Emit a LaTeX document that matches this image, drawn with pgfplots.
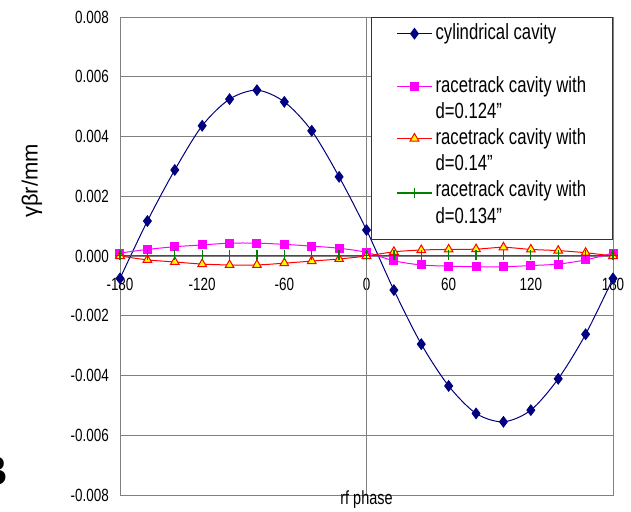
\documentclass[border=0pt]{standalone}
\usepackage{pgfplots}
\usepackage{pgfplotstable}
\pgfplotsset{compat=1.18}
\usepackage{fontspec}
\setmainfont{Liberation Sans}[FakeStretch=0.76]
\newfontfamily\plainsans{Liberation Sans}
\definecolor{navyc}{RGB}{0,0,128}
\definecolor{magc}{RGB}{255,0,255}
\definecolor{redc}{RGB}{255,0,0}
\definecolor{yelc}{RGB}{255,255,0}
\definecolor{grnc}{RGB}{0,128,0}
\definecolor{gridc}{RGB}{128,128,128}

\pgfplotstableread{
phase cyl rta rtb rtc
-180 -0.00075 0.00010 0.00000 0.00002
-160 0.00117 0.00022 -0.00013 0.00002
-140 0.00288 0.00031 -0.00020 0.00002
-120 0.00436 0.00037 -0.00027 0.00002
-100 0.00525 0.00043 -0.00030 0.00002
-80 0.00555 0.00043 -0.00030 0.00002
-60 0.00516 0.00039 -0.00024 0.00002
-40 0.00419 0.00033 -0.00017 0.00002
-20 0.00265 0.00026 -0.00010 0.00002
0 0.00087 0.00012 0.00000 0.00002
20 -0.00114 -0.00016 0.00014 0.00002
40 -0.00295 -0.00030 0.00020 0.00002
60 -0.00435 -0.00034 0.00022 0.00002
80 -0.00527 -0.00036 0.00023 0.00002
100 -0.00555 -0.00036 0.00029 0.00002
120 -0.00516 -0.00032 0.00022 0.00002
140 -0.00411 -0.00027 0.00018 0.00002
160 -0.00262 -0.00013 0.00011 0.00002
180 -0.00075 0.00010 0.00000 0.00002
}\datatab

\newcommand{\lent}[2]{\parbox[t]{152bp}{\strut #1\\\strut #2}}
\newcommand{\lentb}[2]{\parbox[t]{152bp}{\strut #1\\\strut #2\rule[-12bp]{0pt}{12bp}}}

\begin{document}
\begin{tikzpicture}
\begin{axis}[
  scale only axis,
  width=493bp, height=478bp,
  xmin=-180, xmax=180, ymin=-0.008, ymax=0.008,
  axis line style={gridc, line width=0.8bp},
  xtick={-180,-120,-60,0,60,120,180},
  xticklabels={-180,-120,-60,0,60,120,180},
  ytick={-0.008,-0.006,-0.004,-0.002,0,0.002,0.004,0.006,0.008},
  yticklabels={-0.008,-0.006,-0.004,-0.002,0.000,0.002,0.004,0.006,0.008},
  scaled y ticks=false, scaled x ticks=false,
  major tick length=0pt,
  ymajorgrids,
  grid style={gridc, line width=0.8bp},
  tick label style={font=\fontsize{17.7bp}{20bp}\selectfont, inner sep=0pt},
  yticklabel style={anchor=east, xshift=-11bp},
  xticklabel style={anchor=north, yshift=217bp},
  xlabel={rf phase},
  every axis x label/.style={at={(rel axis cs:0.5,0)}, anchor=north, yshift=4bp, inner sep=0pt, font=\fontsize{19bp}{22bp}\selectfont},
  ylabel={\plainsans γβr/mm},
  every axis y label/.style={at={(rel axis cs:-0.1785,0.657)}, rotate=90, anchor=center, font=\fontsize{22bp}{26bp}\selectfont},
  legend cell align=left,
  legend style={at={(rel axis cs:1,1)}, anchor=north east,
    draw=black!80, line width=0.8bp, fill=white,
    font=\fontsize{22bp}{26.2bp}\selectfont,
    inner xsep=25bp, inner ysep=4bp,
    nodes={inner sep=0pt, text depth=}, column sep=3bp, row sep=0pt},
  legend image code/.code={\draw[mark repeat=2,mark phase=2] plot coordinates {(0bp,13.9bp) (17.5bp,13.9bp) (35bp,13.9bp)};},
]
\draw[gridc, line width=0.8bp] (axis cs:0,-0.008) -- (axis cs:0,0.008);
\addplot[navyc, line width=1bp, smooth, mark=diamond*, mark size=5.2bp, mark options={fill=navyc, solid}] table[x=phase, y=cyl] {\datatab};
\addlegendentry{\lent{cylindrical cavity}{}}
\addplot[magc, line width=1bp, smooth, mark=square*, mark size=4bp, mark options={fill=magc, solid}] table[x=phase, y=rta] {\datatab};
\addlegendentry{\lent{racetrack cavity with}{d=0.124"}}
\addplot[redc, line width=1bp, smooth, mark=triangle*, mark size=5bp, mark options={fill=yelc, draw=redc, solid}] table[x=phase, y=rtb] {\datatab};
\addlegendentry{\lent{racetrack cavity with}{d=0.14"}}
\addplot[grnc, line width=1.3bp, mark=+, mark size=5bp, mark options={solid}] table[x=phase, y=rtc] {\datatab};
\addlegendentry{\lentb{racetrack cavity with}{d=0.134"}}
\end{axis}
\node[anchor=base east, inner sep=0pt, font=\plainsans\bfseries\fontsize{42bp}{46bp}\selectfont] at (-112bp,10bp) {B};
\pgfresetboundingbox
\useasboundingbox (-120bp,-17bp) rectangle (511bp,495bp);
\end{tikzpicture}
\end{document}
